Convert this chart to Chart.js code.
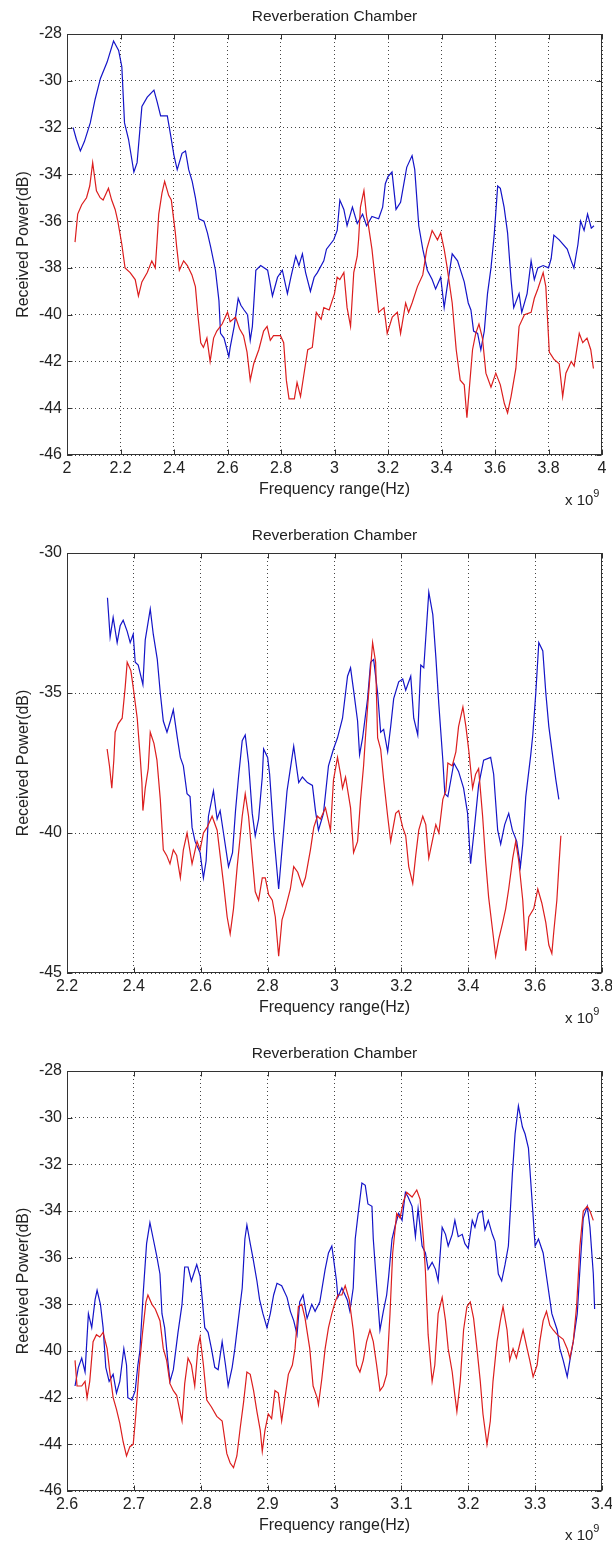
<!DOCTYPE html>
<html><head><meta charset="utf-8">
<script src="https://cdn.jsdelivr.net/npm/chart.js@4.4.1/dist/chart.umd.min.js"></script>
<style>
html,body{margin:0;padding:0;background:#fff;}
body{width:612px;height:1542px;position:relative;overflow:hidden;font-family:"Liberation Sans",Arial,sans-serif;}
.wrap{position:absolute;left:0;width:612px;}
.exp{position:absolute;left:565px;font-size:15px;line-height:16px;color:#222;white-space:nowrap;}
.exp span{font-size:11px;position:relative;top:-8px;}
</style></head><body>
<div class="wrap" style="top:0;height:519px"><canvas id="c1"></canvas></div>
<div class="wrap" style="top:519px;height:518px"><canvas id="c2"></canvas></div>
<div class="wrap" style="top:1037px;height:505px"><canvas id="c3"></canvas></div>
<div class="exp" style="top:492px">x 10<span>9</span></div>
<div class="exp" style="top:1010px">x 10<span>9</span></div>
<div class="exp" style="top:1527px">x 10<span>9</span></div>
<script>
// ---------- Plot 1 (2 - 4 GHz) ----------
const p1BlueFreq = [2.023,2.035,2.05,2.065,2.087,2.105,2.125,2.15,2.174,2.193,2.205,2.215,2.23,2.25,2.262,2.28,2.3,2.325,2.337,2.35,2.375,2.387,2.4,2.412,2.43,2.443,2.455,2.468,2.48,2.493,2.512,2.525,2.537,2.555,2.568,2.574,2.587,2.605,2.61,2.625,2.64,2.65,2.662,2.675,2.685,2.693,2.706,2.724,2.75,2.768,2.787,2.805,2.824,2.837,2.855,2.867,2.88,2.892,2.91,2.924,2.936,2.96,2.97,2.997,3.01,3.02,3.035,3.047,3.067,3.085,3.105,3.12,3.14,3.165,3.18,3.19,3.2,3.215,3.23,3.247,3.27,3.29,3.3,3.315,3.33,3.347,3.365,3.378,3.397,3.41,3.42,3.44,3.46,3.485,3.5,3.51,3.52,3.535,3.547,3.56,3.572,3.585,3.597,3.61,3.62,3.634,3.647,3.66,3.67,3.69,3.7,3.72,3.735,3.747,3.76,3.78,3.8,3.81,3.82,3.84,3.87,3.885,3.895,3.91,3.92,3.933,3.946,3.96,3.97];
const p1BlueDb = [-32.0,-32.5,-33.0,-32.6,-31.8,-30.8,-29.9,-29.2,-28.3,-28.7,-29.4,-31.8,-32.5,-33.9,-33.5,-31.1,-30.7,-30.4,-30.9,-31.5,-31.5,-32.3,-33.2,-33.8,-33.1,-33.0,-33.8,-34.3,-35.0,-35.9,-36.0,-36.5,-37.1,-38.1,-39.4,-40.8,-41.0,-41.8,-41.4,-40.5,-39.3,-39.6,-39.8,-40.0,-41.1,-40.5,-38.1,-37.9,-38.1,-39.2,-38.4,-38.1,-39.1,-38.4,-37.5,-37.9,-37.4,-38.2,-39.0,-38.4,-38.2,-37.7,-37.2,-36.8,-36.4,-35.1,-35.5,-36.2,-35.4,-36.1,-35.7,-36.2,-35.8,-35.9,-35.4,-34.4,-34.1,-33.9,-35.5,-35.2,-33.7,-33.2,-33.8,-36.2,-37.2,-38.1,-38.5,-38.9,-38.4,-39.7,-38.9,-37.4,-37.7,-38.6,-39.5,-39.8,-40.7,-40.8,-41.5,-40.7,-39.1,-38.0,-36.6,-34.5,-34.6,-35.4,-36.5,-38.5,-39.7,-39.1,-39.9,-39.1,-37.7,-38.5,-38.0,-37.9,-38.0,-37.6,-36.6,-36.8,-37.2,-37.7,-38.0,-37.0,-36.0,-36.4,-35.7,-36.3,-36.2];
const p1RedFreq = [2.03,2.04,2.055,2.073,2.085,2.096,2.11,2.124,2.135,2.155,2.167,2.18,2.19,2.205,2.217,2.236,2.255,2.267,2.28,2.3,2.317,2.33,2.337,2.343,2.355,2.365,2.38,2.39,2.405,2.41,2.42,2.436,2.45,2.467,2.48,2.49,2.5,2.51,2.523,2.535,2.548,2.56,2.58,2.6,2.61,2.63,2.645,2.66,2.673,2.685,2.698,2.717,2.735,2.748,2.76,2.772,2.798,2.81,2.82,2.83,2.85,2.86,2.873,2.885,2.9,2.917,2.932,2.95,2.96,2.98,3.0,3.01,3.02,3.035,3.047,3.06,3.072,3.085,3.09,3.097,3.11,3.12,3.127,3.14,3.153,3.165,3.185,3.197,3.216,3.235,3.247,3.266,3.277,3.29,3.31,3.33,3.345,3.365,3.385,3.397,3.41,3.42,3.44,3.455,3.47,3.485,3.495,3.503,3.516,3.528,3.54,3.553,3.566,3.585,3.603,3.62,3.635,3.647,3.66,3.678,3.69,3.71,3.735,3.747,3.76,3.78,3.79,3.803,3.82,3.84,3.853,3.865,3.885,3.896,3.915,3.928,3.944,3.958,3.968];
const p1RedDb = [-36.9,-35.7,-35.3,-35.0,-34.5,-33.5,-34.7,-35.0,-35.1,-34.6,-35.1,-35.5,-36.0,-37.0,-38.0,-38.2,-38.5,-39.2,-38.6,-38.2,-37.7,-38.0,-36.8,-35.7,-34.8,-34.3,-34.9,-35.1,-36.5,-37.1,-38.1,-37.7,-37.9,-38.3,-38.8,-40.1,-41.2,-41.4,-41.0,-42.0,-41.0,-40.7,-40.4,-39.9,-40.3,-40.1,-40.6,-40.9,-41.6,-42.8,-42.1,-41.5,-40.7,-40.5,-41.1,-40.9,-40.9,-41.2,-42.8,-43.6,-43.6,-42.9,-43.5,-42.6,-41.5,-41.4,-39.9,-40.2,-39.7,-39.8,-39.1,-38.4,-38.5,-38.2,-39.7,-40.5,-38.2,-37.5,-36.8,-35.4,-34.7,-35.8,-36.2,-37.2,-38.6,-39.9,-39.7,-40.8,-40.1,-39.9,-40.8,-39.5,-39.9,-39.5,-38.8,-38.3,-37.2,-36.4,-36.8,-36.5,-37.2,-37.9,-39.5,-41.5,-42.8,-43.0,-44.4,-43.3,-41.5,-40.8,-40.4,-41.0,-42.5,-43.1,-42.5,-43.0,-43.8,-44.2,-43.5,-42.3,-40.5,-40.0,-39.9,-39.3,-38.9,-38.2,-38.8,-41.6,-41.9,-42.1,-43.5,-42.5,-42.0,-42.2,-40.8,-41.2,-41.0,-41.5,-42.3];
const p1XTicks = {min: 2, max: 4, step: 0.2};
const p1YTicks = {min: -46, max: -28, step: 2};

// ---------- Plot 2 (2.2 - 3.8 GHz) ----------
const p2BlueFreq = [2.321,2.329,2.338,2.35,2.359,2.368,2.38,2.389,2.398,2.404,2.413,2.427,2.434,2.449,2.458,2.47,2.479,2.488,2.499,2.509,2.518,2.53,2.539,2.548,2.559,2.568,2.574,2.583,2.598,2.608,2.616,2.623,2.638,2.649,2.658,2.668,2.683,2.695,2.704,2.713,2.724,2.733,2.743,2.754,2.763,2.773,2.784,2.788,2.8,2.806,2.818,2.833,2.843,2.858,2.868,2.878,2.893,2.904,2.919,2.934,2.943,2.952,2.967,2.982,2.997,3.009,3.024,3.039,3.048,3.057,3.069,3.075,3.084,3.099,3.108,3.117,3.129,3.138,3.147,3.159,3.168,3.177,3.192,3.204,3.213,3.228,3.237,3.249,3.258,3.267,3.282,3.294,3.303,3.312,3.324,3.33,3.339,3.357,3.371,3.386,3.398,3.407,3.416,3.431,3.446,3.467,3.476,3.488,3.497,3.509,3.521,3.532,3.545,3.556,3.563,3.572,3.587,3.593,3.602,3.611,3.623,3.632,3.641,3.653,3.662,3.671];
const p2BlueDb = [-31.6,-33.0,-32.3,-33.2,-32.6,-32.4,-32.8,-33.2,-32.9,-33.9,-34.0,-34.7,-33.1,-32.0,-32.9,-33.8,-35.0,-36.0,-36.4,-36.0,-35.6,-36.6,-37.3,-37.6,-38.6,-38.7,-39.8,-40.3,-40.7,-41.6,-41.0,-39.4,-38.5,-39.5,-39.2,-40.0,-41.2,-40.7,-39.2,-38.0,-36.7,-36.5,-37.5,-39.3,-40.1,-39.5,-38.0,-37.0,-37.3,-37.9,-40.0,-42.0,-40.6,-38.5,-37.7,-36.9,-38.2,-38.0,-38.2,-38.3,-39.2,-39.9,-39.3,-37.6,-37.0,-36.6,-35.9,-34.4,-34.1,-34.9,-36.0,-37.2,-36.6,-35.2,-33.9,-33.8,-35.0,-36.4,-36.3,-37.1,-36.2,-35.2,-34.6,-34.5,-34.9,-34.4,-35.9,-36.5,-34.0,-34.1,-31.4,-32.2,-33.7,-35.4,-37.4,-38.6,-38.7,-37.5,-37.8,-38.4,-39.3,-41.1,-40.1,-38.3,-37.4,-37.3,-37.9,-39.9,-40.4,-39.7,-39.3,-39.9,-40.3,-41.2,-40.4,-38.7,-37.2,-36.5,-35.0,-33.2,-33.5,-35.0,-36.2,-37.3,-38.1,-38.8];
const p2RedFreq = [2.32,2.327,2.334,2.34,2.344,2.353,2.365,2.374,2.38,2.391,2.398,2.41,2.419,2.424,2.427,2.434,2.443,2.449,2.46,2.469,2.479,2.488,2.498,2.508,2.518,2.528,2.539,2.548,2.559,2.574,2.589,2.598,2.608,2.619,2.634,2.649,2.658,2.668,2.679,2.688,2.698,2.709,2.724,2.733,2.743,2.754,2.763,2.773,2.784,2.793,2.803,2.814,2.823,2.833,2.843,2.853,2.868,2.878,2.89,2.904,2.913,2.928,2.938,2.949,2.958,2.973,2.988,2.997,3.009,3.018,3.024,3.033,3.048,3.057,3.069,3.078,3.087,3.093,3.099,3.108,3.114,3.123,3.129,3.138,3.147,3.159,3.168,3.183,3.192,3.204,3.213,3.222,3.234,3.243,3.252,3.264,3.273,3.282,3.294,3.303,3.312,3.324,3.333,3.339,3.352,3.363,3.371,3.384,3.393,3.402,3.413,3.422,3.431,3.443,3.452,3.461,3.473,3.482,3.491,3.503,3.512,3.521,3.533,3.542,3.551,3.563,3.572,3.581,3.596,3.608,3.62,3.632,3.641,3.65,3.656,3.665,3.671,3.677];
const p2RedDb = [-37.0,-37.6,-38.4,-37.4,-36.4,-36.1,-35.9,-34.8,-33.9,-34.2,-34.8,-35.9,-37.3,-38.2,-39.2,-38.4,-37.7,-36.4,-36.8,-37.4,-38.8,-40.6,-40.8,-41.1,-40.6,-40.8,-41.6,-40.6,-40.0,-41.1,-40.3,-40.6,-40.0,-39.8,-39.4,-39.9,-40.8,-41.8,-43.0,-43.6,-42.7,-41.2,-39.4,-38.6,-39.4,-40.9,-42.1,-42.4,-41.6,-41.6,-42.2,-42.4,-43.0,-44.4,-43.1,-42.7,-42.0,-41.2,-41.4,-41.9,-41.6,-40.6,-39.8,-39.4,-39.5,-39.1,-39.9,-38.1,-37.3,-37.9,-38.4,-38.0,-39.1,-40.7,-40.3,-38.8,-37.6,-36.5,-35.5,-34.1,-33.2,-33.9,-36.6,-37.0,-38.1,-39.4,-40.3,-39.3,-39.2,-39.8,-40.1,-41.2,-41.8,-40.8,-39.9,-39.4,-39.7,-40.9,-40.2,-39.7,-40.0,-38.8,-38.5,-37.5,-37.6,-37.1,-36.2,-35.5,-36.2,-37.1,-38.4,-37.9,-37.7,-39.4,-41.0,-42.3,-43.5,-44.4,-43.8,-43.2,-42.7,-42.0,-40.9,-40.3,-41.0,-42.4,-44.2,-43.0,-42.7,-42.0,-42.5,-43.2,-44.0,-44.3,-43.5,-42.4,-41.2,-40.1];
const p2XTicks = {min: 2.2, max: 3.8, step: 0.2};
const p2YTicks = {min: -45, max: -30, step: 5};

// ---------- Plot 3 (2.6 - 3.4 GHz) ----------
const p3BlueFreq = [2.612,2.617,2.622,2.627,2.632,2.637,2.642,2.645,2.65,2.654,2.658,2.663,2.669,2.674,2.679,2.685,2.689,2.691,2.697,2.702,2.706,2.709,2.714,2.719,2.724,2.729,2.734,2.739,2.742,2.746,2.751,2.754,2.759,2.766,2.772,2.776,2.781,2.786,2.794,2.799,2.802,2.806,2.811,2.816,2.821,2.826,2.832,2.837,2.841,2.847,2.851,2.856,2.862,2.866,2.869,2.874,2.878,2.884,2.888,2.893,2.899,2.904,2.909,2.914,2.921,2.929,2.934,2.939,2.944,2.948,2.953,2.959,2.966,2.971,2.978,2.986,2.991,2.996,3.003,3.005,3.011,3.019,3.023,3.028,3.031,3.035,3.041,3.046,3.05,3.056,3.058,3.063,3.068,3.073,3.078,3.081,3.086,3.091,3.096,3.101,3.106,3.11,3.116,3.121,3.125,3.131,3.136,3.14,3.146,3.151,3.155,3.161,3.166,3.17,3.176,3.18,3.185,3.191,3.195,3.2,3.206,3.21,3.215,3.221,3.225,3.23,3.236,3.24,3.245,3.25,3.255,3.26,3.266,3.27,3.275,3.281,3.285,3.29,3.296,3.3,3.305,3.312,3.318,3.325,3.333,3.337,3.342,3.348,3.352,3.357,3.363,3.367,3.372,3.378,3.382,3.387,3.389];
const p3BlueDb = [-41.5,-40.7,-40.3,-40.9,-38.4,-39.0,-37.8,-37.4,-38.0,-39.0,-40.7,-41.3,-41.0,-41.8,-41.3,-39.9,-40.6,-42.0,-42.1,-41.7,-40.6,-40.0,-37.5,-35.4,-34.5,-35.2,-35.9,-36.7,-38.4,-39.0,-40.5,-41.3,-40.8,-39.2,-38.0,-36.4,-36.4,-37.0,-36.3,-36.8,-37.7,-39.0,-39.2,-39.9,-40.7,-40.8,-39.6,-40.6,-41.5,-40.7,-39.9,-38.7,-37.3,-35.2,-34.6,-35.4,-36.0,-37.0,-37.8,-38.4,-39.0,-38.4,-37.6,-37.1,-37.2,-37.7,-38.3,-38.7,-39.3,-37.9,-37.6,-38.6,-38.0,-38.3,-37.9,-36.5,-35.8,-35.5,-37.0,-37.7,-37.3,-37.8,-38.3,-37.3,-35.2,-34.2,-32.8,-32.9,-33.7,-33.8,-35.2,-37.2,-39.1,-38.3,-37.6,-36.8,-35.2,-34.6,-34.1,-34.4,-33.2,-33.4,-33.8,-35.1,-33.9,-35.5,-35.8,-36.5,-36.2,-36.5,-37.0,-34.7,-35.0,-35.5,-35.0,-34.4,-35.1,-35.0,-35.4,-35.6,-34.4,-34.7,-34.1,-34.0,-34.8,-34.4,-35.0,-35.3,-36.7,-37.0,-36.3,-35.5,-32.4,-30.7,-29.5,-30.4,-30.7,-31.3,-33.8,-35.5,-35.2,-35.8,-37.0,-38.4,-39.1,-39.9,-40.4,-41.1,-40.4,-39.6,-38.4,-36.5,-34.3,-33.8,-34.7,-36.7,-38.2];
const p3RedFreq = [2.612,2.615,2.622,2.627,2.63,2.634,2.639,2.644,2.649,2.654,2.66,2.664,2.669,2.674,2.679,2.684,2.689,2.694,2.699,2.703,2.708,2.713,2.718,2.721,2.727,2.732,2.739,2.744,2.749,2.754,2.759,2.764,2.772,2.776,2.781,2.786,2.791,2.796,2.799,2.804,2.809,2.816,2.824,2.832,2.839,2.844,2.849,2.854,2.859,2.864,2.869,2.874,2.879,2.884,2.889,2.892,2.896,2.901,2.906,2.911,2.916,2.921,2.926,2.931,2.937,2.941,2.946,2.951,2.956,2.963,2.968,2.974,2.976,2.981,2.986,2.991,2.996,3.001,3.005,3.011,3.016,3.022,3.028,3.033,3.038,3.043,3.048,3.053,3.058,3.063,3.068,3.073,3.078,3.083,3.087,3.093,3.098,3.103,3.108,3.116,3.123,3.128,3.133,3.136,3.14,3.146,3.15,3.155,3.161,3.166,3.17,3.176,3.18,3.183,3.188,3.193,3.198,3.203,3.208,3.213,3.218,3.222,3.228,3.233,3.237,3.243,3.248,3.252,3.258,3.262,3.267,3.272,3.277,3.282,3.288,3.292,3.297,3.303,3.307,3.312,3.317,3.322,3.327,3.333,3.342,3.348,3.352,3.357,3.362,3.367,3.372,3.378,3.382,3.387];
const p3RedDb = [-40.4,-41.5,-41.5,-41.3,-42.0,-41.3,-39.6,-39.3,-39.4,-39.2,-39.9,-40.9,-42.0,-42.5,-43.1,-43.9,-44.5,-44.1,-44.0,-42.7,-40.7,-39.2,-37.9,-37.6,-38.0,-38.2,-38.7,-39.9,-40.4,-41.4,-41.7,-41.9,-43.0,-41.4,-40.3,-40.6,-41.5,-39.8,-39.4,-40.6,-42.1,-42.4,-42.8,-43.0,-44.4,-44.8,-45.0,-44.5,-43.3,-42.2,-40.9,-41.0,-41.7,-42.6,-43.4,-44.3,-43.4,-42.7,-42.9,-41.7,-41.8,-43.0,-42.0,-41.0,-40.6,-39.9,-38.1,-38.0,-38.6,-39.9,-41.5,-42.0,-42.3,-41.2,-39.9,-39.0,-38.4,-37.9,-37.6,-37.6,-37.2,-37.8,-39.1,-40.6,-40.9,-40.4,-39.6,-39.1,-39.6,-40.6,-41.7,-41.5,-41.0,-38.4,-35.8,-34.1,-34.3,-33.6,-33.2,-33.4,-33.1,-33.5,-35.2,-36.6,-39.3,-41.3,-40.6,-38.4,-37.7,-38.7,-39.9,-40.9,-41.9,-42.6,-41.3,-39.1,-38.1,-37.9,-38.6,-39.9,-41.3,-42.7,-44.0,-43.0,-41.3,-39.6,-38.7,-38.1,-39.1,-40.4,-39.9,-40.3,-39.7,-39.1,-39.9,-40.4,-41.1,-40.6,-39.6,-38.7,-38.3,-38.9,-39.1,-39.3,-39.5,-39.9,-40.3,-39.6,-38.1,-35.5,-34.0,-33.8,-34.0,-34.4];
const p3XTicks = {min: 2.6, max: 3.4, step: 0.1};
const p3YTicks = {min: -46, max: -28, step: 2};

const titleText = 'Reverberation Chamber';
const xTitle = 'Frequency range(Hz)';
const yTitle = 'Received Power(dB)';

const BLUE = 'rgb(20,20,200)';
const RED = 'rgb(220,30,30)';
const FONT = '"Liberation Sans", Arial, Helvetica, sans-serif';

Chart.defaults.font.family = FONT;
Chart.defaults.color = '#222';

const boxPlugin = {
  id: 'matlabBox',
  afterDraw(chart) {
    const {ctx, chartArea: a, scales: {x, y}} = chart;
    ctx.save();
    ctx.strokeStyle = '#333';
    ctx.lineWidth = 1;
    ctx.setLineDash([]);
    const L = Math.round(a.left) + 0.5, R = Math.round(a.right) - 0.5;
    const T = Math.round(a.top) + 0.5, B = Math.round(a.bottom) - 0.5;
    ctx.strokeRect(L, T, R - L, B - T);
    ctx.beginPath();
    x.ticks.forEach(t => {
      const px = Math.round(x.getPixelForValue(t.value)) + 0.5;
      ctx.moveTo(px, B); ctx.lineTo(px, B - 5);
      ctx.moveTo(px, T); ctx.lineTo(px, T + 5);
    });
    y.ticks.forEach(t => {
      const py = Math.round(y.getPixelForValue(t.value)) + 0.5;
      ctx.moveTo(L, py); ctx.lineTo(L + 5, py);
      ctx.moveTo(R, py); ctx.lineTo(R - 5, py);
    });
    ctx.stroke();
    ctx.restore();
  }
};

function pts(xs, ys) { return xs.map((v, i) => ({x: v, y: ys[i]})); }
function fmt(v) { return String(+v.toFixed(2)); }

function makeChart(id, bx, by, rx, ry, xt, yt, padBottom) {
  return new Chart(document.getElementById(id), {
    type: 'line',
    data: {
      datasets: [
        {data: pts(rx, ry), borderColor: RED, borderWidth: 1.2, pointRadius: 0, tension: 0, order: 0},
        {data: pts(bx, by), borderColor: BLUE, borderWidth: 1.2, pointRadius: 0, tension: 0, order: 1}
      ]
    },
    options: {
      animation: false,
      responsive: true,
      maintainAspectRatio: false,
      devicePixelRatio: 1,
      events: [],
      layout: {padding: {left: 0, right: 10, top: 0, bottom: padBottom}},
      plugins: {
        legend: {display: false},
        tooltip: {enabled: false},
        title: {display: true, fullSize: false, text: titleText, color: '#222',
          font: {size: 15.5, weight: 'normal', lineHeight: 1.2},
          padding: {top: 7, bottom: 8.4}}
      },
      scales: {
        x: {
          type: 'linear', min: xt.min, max: xt.max,
          ticks: {stepSize: xt.step, autoSkip: false, maxRotation: 0, padding: 4,
            font: {size: 16}, color: '#222', callback: v => fmt(v)},
          grid: {color: '#444', lineWidth: 1, drawTicks: false},
          border: {display: false, dash: [1, 3]},
          title: {display: true, text: xTitle, color: '#222', font: {size: 16, lineHeight: 1.2}, padding: {top: 0, bottom: 1}},
          afterFit(s) { s.height = 45; s.paddingLeft = 0; s.paddingRight = 0; }
        },
        y: {
          type: 'linear', min: yt.min, max: yt.max,
          ticks: {stepSize: yt.step, autoSkip: false, padding: 5,
            font: {size: 16}, color: '#222', callback: v => fmt(v)},
          grid: {color: '#444', lineWidth: 1, drawTicks: false},
          border: {display: false, dash: [1, 3]},
          title: {display: true, text: yTitle, color: '#222', font: {size: 16, lineHeight: 1.2}, padding: {top: 14, bottom: 0}},
          afterFit(s) { s.width = 67; s.paddingTop = 0; s.paddingBottom = 0; }
        }
      }
    },
    plugins: [boxPlugin]
  });
}

makeChart('c1', p1BlueFreq, p1BlueDb, p1RedFreq, p1RedDb, p1XTicks, p1YTicks, 19);
makeChart('c2', p2BlueFreq, p2BlueDb, p2RedFreq, p2RedDb, p2XTicks, p2YTicks, 19);
makeChart('c3', p3BlueFreq, p3BlueDb, p3RedFreq, p3RedDb, p3XTicks, p3YTicks, 6);
</script>
</body></html>
